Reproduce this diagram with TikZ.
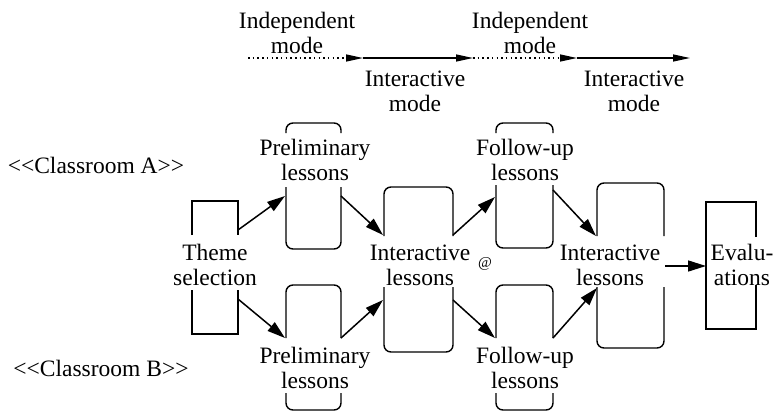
\documentclass[tikz,border=0pt]{standalone}
\usepackage{fontspec}
\setmainfont{Liberation Serif}
\usetikzlibrary{arrows.meta}
\begin{document}
\begin{tikzpicture}[x=1pt,y=-1pt,
  lbl/.style={font=\fontsize{23.5}{25}\selectfont, align=center, inner sep=0pt, anchor=base},
  frame/.style={line width=1.4pt, rounded corners=7pt},
  sqframe/.style={line width=1.4pt},
  flow/.style={line width=1.5pt, -{Triangle[length=18pt,width=11pt]}},
  modeline/.style={line width=1.4pt, -{Triangle[length=17pt,width=7pt]}},
  indep/.style={modeline, dash pattern=on 1.5pt off 3.2pt},
]
\useasboundingbox (0,0) rectangle (781,413);

% labels (anchor = baseline of the last line)
\node[lbl] (indep1) at (297,53) {Independent\\mode};
\node[lbl] (inter1) at (415,111) {Interactive\\mode};
\node[lbl] (indep2) at (530,53) {Independent\\mode};
\node[lbl] (inter2) at (634,111) {Interactive\\mode};
\node[lbl] (clsA) at (96,173) {<{}<Classroom A>{}>};
\node[lbl] (clsB) at (101,376) {<{}<Classroom B>{}>};
\node[lbl] (theme) at (215,285) {Theme\\selection};
\node[lbl] (prelA) at (315,180) {Preliminary\\lessons};
\node[lbl] (prelB) at (315,388) {Preliminary\\lessons};
\node[lbl] (intA) at (420,285) {Interactive\\lessons};
\node[lbl] (follA) at (525,180) {Follow-up\\lessons};
\node[lbl] (follB) at (525,388) {Follow-up\\lessons};
\node[lbl] (intB) at (610,285) {Interactive\\lessons};
\node[lbl] (eval) at (742,285) {Evalu-\\ations};
\node[font=\fontsize{15}{15}\selectfont, inner sep=0pt] (atsign) at (485,264) {@};

% mode timeline
\coordinate (m0) at (248,58);
\coordinate (m1) at (363,58);
\coordinate (m2) at (473,58);
\coordinate (m3) at (577,58);
\coordinate (m4) at (690,58);
\draw[indep] (m0) -- (m1);
\draw[modeline] (m1) -- (m2);
\draw[indep] (m2) -- (m3);
\draw[modeline] (m3) -- (m4);

% Theme selection frame
\draw[sqframe] (192,235) -- (192,201) -- (238,201) -- (238,235);
\draw[sqframe] (192,290) -- (192,334) -- (238,334) -- (238,290);
% Preliminary A
\draw[frame] (286,133) -- (286,123) -- (341,123) -- (341,133);
\draw[frame] (286,187) -- (286,249) -- (341,249) -- (341,187);
% Preliminary B
\draw[frame] (286,338) -- (286,285) -- (341,285) -- (341,338);
\draw[frame] (286,393) -- (286,410) -- (341,410) -- (341,393);
% Interactive A
\draw[frame] (384,236) -- (384,187) -- (453,187) -- (453,236);
\draw[frame] (384,287) -- (384,352) -- (453,352) -- (453,287);
% Follow-up A
\draw[frame] (496,133) -- (496,123) -- (553,123) -- (553,133);
\draw[frame] (496,185) -- (496,248) -- (553,248) -- (553,185);
% Follow-up B
\draw[frame] (496,338) -- (496,285) -- (553,285) -- (553,338);
\draw[frame] (496,393) -- (496,410) -- (553,410) -- (553,393);
% Interactive B
\draw[frame] (597,236) -- (597,183) -- (664,183) -- (664,236);
\draw[frame] (597,287) -- (597,348) -- (664,348) -- (664,287);
% Evaluations
\draw[sqframe] (756,237) -- (756,202) -- (706,202) -- (706,329) -- (756,329) -- (756,285);

% flow connectors
\coordinate (thA) at (238,230);
\coordinate (thB) at (238,299);
\coordinate (pAin) at (285,196);
\coordinate (pAout) at (341,196);
\coordinate (pBin) at (285,338);
\coordinate (pBout) at (341,338);
\coordinate (iAinT) at (383,235);
\coordinate (iAinB) at (383,300);
\coordinate (iAoutT) at (453,235);
\coordinate (iAoutB) at (453,300);
\coordinate (fAin) at (495,197);
\coordinate (fAout) at (553,190);
\coordinate (fBin) at (495,338);
\coordinate (fBout) at (553,338);
\coordinate (iBinT) at (596,236);
\coordinate (iBinB) at (597,288);
\coordinate (iBout) at (665,266);
\coordinate (evIn) at (706,266);

\draw[flow] (thA) -- (pAin);
\draw[flow] (pAout) -- (iAinT);
\draw[flow] (iAoutT) -- (fAin);
\draw[flow] (fAout) -- (iBinT);
\draw[flow] (thB) -- (pBin);
\draw[flow] (pBout) -- (iAinB);
\draw[flow] (iAoutB) -- (fBin);
\draw[flow] (fBout) -- (iBinB);
\draw[flow] (iBout) -- (evIn);
\end{tikzpicture}
\end{document}
